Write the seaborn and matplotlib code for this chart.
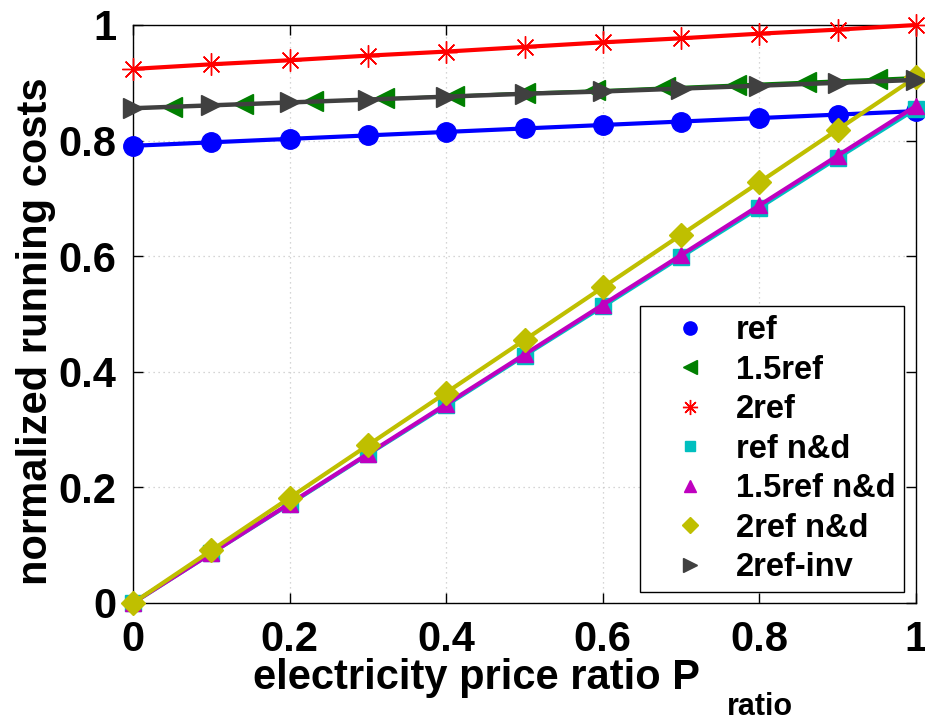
import matplotlib
matplotlib.use("Agg")
import matplotlib.pyplot as plt
from matplotlib.lines import Line2D
import seaborn as sns

# Electricity price ratio sampled at 0.1 steps
p_ratio = [0.0, 0.1, 0.2, 0.3, 0.4, 0.5, 0.6, 0.7, 0.8, 0.9, 1.0]

ref = [0.791, 0.797, 0.803, 0.809, 0.815, 0.821, 0.827, 0.833, 0.839, 0.845, 0.851]
ref_2 = [0.924, 0.932, 0.939, 0.947, 0.954, 0.962, 0.970, 0.977, 0.985, 0.992, 1.000]
ref_nd = [0.000, 0.086, 0.171, 0.257, 0.342, 0.428, 0.513, 0.599, 0.684, 0.770, 0.855]
ref_15_nd = [0.000, 0.086, 0.172, 0.258, 0.344, 0.430, 0.516, 0.602, 0.688, 0.774, 0.860]
ref_2_nd = [0.000, 0.091, 0.182, 0.273, 0.364, 0.455, 0.546, 0.637, 0.728, 0.819, 0.910]
ref_2_inv = [0.856, 0.861, 0.866, 0.871, 0.876, 0.881, 0.885, 0.890, 0.895, 0.900, 0.905]

# The 1.5ref case is sampled on its own grid
p_ratio_15 = [0.0, 0.05, 0.14, 0.23, 0.32, 0.41, 0.50, 0.59, 0.68, 0.77, 0.86, 0.95, 1.0]
ref_15 = [0.855, 0.858, 0.863, 0.868, 0.873, 0.878, 0.883, 0.887, 0.892, 0.897, 0.902, 0.907, 0.910]

tick_values = [0, 0.2, 0.4, 0.6, 0.8, 1]
tick_labels = ["0", "0.2", "0.4", "0.6", "0.8", "1"]

legend_labels = ["ref", "1.5ref", "2ref", "ref n&d", "1.5ref n&d", "2ref n&d", "2ref-inv"]

sns.set_style("ticks")
plt.rcParams["font.family"] = ["Liberation Sans", "DejaVu Sans"]
plt.rcParams["font.weight"] = "bold"
for key in ("text.color", "axes.labelcolor", "xtick.color", "ytick.color"):
    plt.rcParams[key] = "black"

fig = plt.figure(figsize=(9.25, 7.22), dpi=100)
W, H = 925, 722
ax = fig.add_axes([133 / W, (H - 603) / H, 783 / W, 578 / H])

asterisk = (8, 2, 0)
series = [
    # x, y, color, marker, markersize, linewidth
    (p_ratio, ref, "#0000ff", "o", 14, 3.0),
    (p_ratio_15, ref_15, "#007f00", "<", 15, 1.5),
    (p_ratio, ref_2, "#ff0000", asterisk, 16, 3.0),
    (p_ratio, ref_nd, "#00bfbf", "s", 11, 3.0),
    (p_ratio, ref_15_nd, "#bf00bf", "^", 12, 3.0),
    (p_ratio, ref_2_nd, "#bfbf00", "D", 12, 3.0),
    (p_ratio, ref_2_inv, "#404040", ">", 15, 3.2),
]

handles = []
for i, (xs, ys, col, mk, ms, lw) in enumerate(series):
    kw = dict(markevery=slice(1, -1)) if xs is p_ratio_15 else {}
    sns.lineplot(x=xs, y=ys, ax=ax, color=col, marker=mk, markersize=ms,
                 linewidth=lw, markeredgecolor=col, markerfacecolor=col,
                 markeredgewidth=1, clip_on=False, estimator=None,
                 sort=False, legend=False, zorder=3 + i, **kw)
    handles.append(Line2D([], [], linestyle="none", marker=mk, color=col,
                          markeredgecolor=col, markerfacecolor=col,
                          markersize=ms * 0.68, markeredgewidth=1))

ax.set_xlim(0, 1)
ax.set_ylim(0, 1)
ax.set_xticks(tick_values)
ax.set_yticks(tick_values)
ax.set_xticklabels(tick_labels)
ax.set_yticklabels(tick_labels)
ax.tick_params(direction="in", length=7, width=1, top=True, right=True,
               labelsize=30, pad=12, colors="black")
for lab in ax.get_xticklabels() + ax.get_yticklabels():
    lab.set_fontweight("bold")
for sp in ax.spines.values():
    sp.set_visible(True)
    sp.set_color("black")
    sp.set_linewidth(1.0)
    sp.set_zorder(2)
ax.grid(True, linestyle=(0, (1, 3)), color="#c8c8c8", linewidth=0.9)
ax.set_axisbelow(True)

ax.set_ylabel("normalized running costs", fontsize=30, fontweight="bold")
ax.yaxis.set_label_coords(-0.098, 0.47)

fig.text(253 / W, 1 - 689 / H, "electricity price ratio P", fontsize=30,
         fontweight="bold", ha="left", va="baseline")
fig.text(727 / W, 1 - 715 / H, "ratio", fontsize=22, fontweight="bold",
         ha="left", va="baseline")

leg = ax.legend(handles, legend_labels, loc="lower right",
                bbox_to_anchor=(0.985, 0.019), borderaxespad=0,
                prop=dict(size=23.5, weight="bold"), frameon=True,
                fancybox=False, framealpha=1, edgecolor="black",
                handlelength=2.55, handletextpad=0.12, borderpad=0.27,
                labelspacing=0.26, numpoints=1)
leg.get_frame().set_linewidth(1.0)
leg.set_zorder(20)

fig.savefig("out.png", dpi=100)
